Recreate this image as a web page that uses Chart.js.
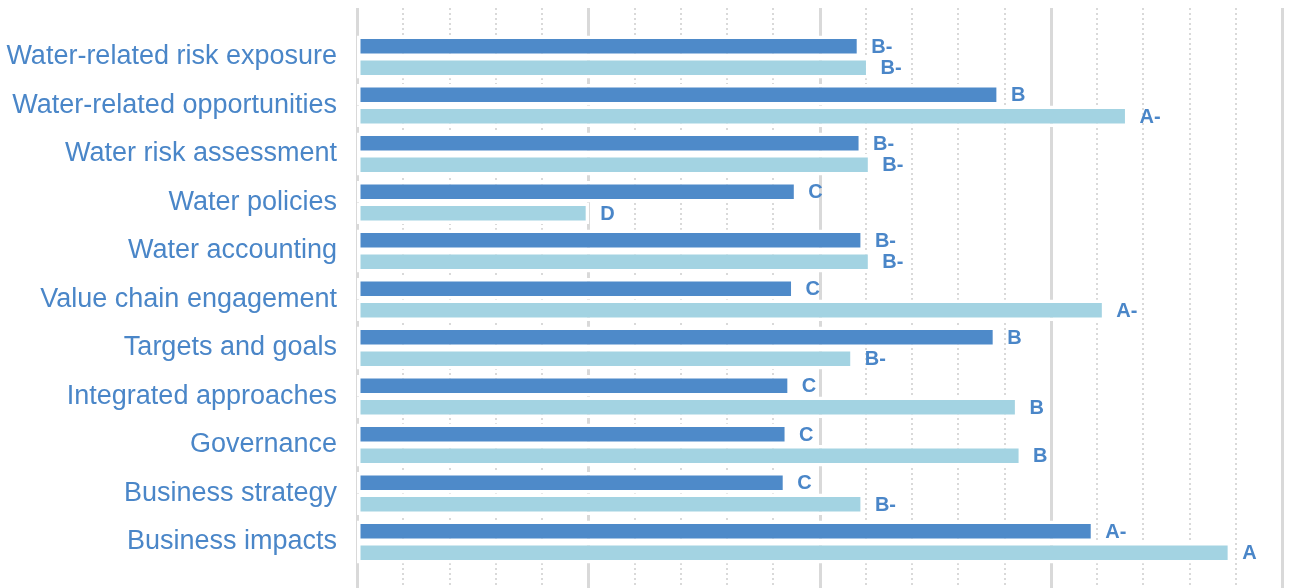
<!DOCTYPE html>
<html>
<head>
<meta charset="utf-8">
<script src="https://cdn.jsdelivr.net/npm/chart.js@4"></script>
<style>
  html, body { margin: 0; padding: 0; background: #fff; }
</style>
</head>
<body>
<canvas id="scores" width="1291" height="588"></canvas>
<script>
var categories = [
  'Water-related risk exposure',
  'Water-related opportunities',
  'Water risk assessment',
  'Water policies',
  'Water accounting',
  'Value chain engagement',
  'Targets and goals',
  'Integrated approaches',
  'Governance',
  'Business strategy',
  'Business impacts'
];
var scoresA = [54.4, 69.5, 54.6, 47.6, 54.8, 47.3, 69.1, 46.9, 46.6, 46.4, 79.7];
var scoresB = [55.4, 83.4, 55.6, 25.1, 55.6, 80.9, 53.7, 71.5, 71.9, 54.8, 94.5];
var gradesA = ['B-', 'B', 'B-', 'C', 'B-', 'C', 'B', 'C', 'C', 'C', 'A-'];
var gradesB = ['B-', 'A-', 'B-', 'D', 'B-', 'A-', 'B-', 'B', 'B', 'B-', 'A'];
var xTicks = [0, 5, 10, 15, 20, 25, 30, 35, 40, 45, 50, 55, 60, 65, 70, 75, 80, 85, 90, 95, 100];

var blue = '#4a86c8';

// grid drawn by hand so it runs the full height, behind the bars
var gridLines = {
  id: 'gridLines',
  beforeDatasetsDraw: function(chart) {
    var ctx = chart.ctx;
    var x = chart.scales.x;
    ctx.save();
    ctx.strokeStyle = '#d9d9d9';
    xTicks.forEach(function(v) {
      var major = v % 25 === 0;
      var px = Math.round(x.getPixelForValue(v)) + (major ? 0.5 : 0);
      ctx.lineWidth = major ? 3 : 2;
      ctx.setLineDash(major ? [] : [2, 3]);
      ctx.beginPath();
      ctx.moveTo(px, 8);
      ctx.lineTo(px, chart.height);
      ctx.stroke();
    });
    ctx.restore();
  }
};

var gradeLabels = {
  id: 'gradeLabels',
  afterDatasetsDraw: function(chart) {
    var ctx = chart.ctx;
    var grades = [gradesA, gradesB];
    ctx.save();
    ctx.fillStyle = blue;
    ctx.font = 'bold 20px "Liberation Sans", Arial, sans-serif';
    ctx.textAlign = 'left';
    ctx.textBaseline = 'middle';
    chart.data.datasets.forEach(function(ds, i) {
      chart.getDatasetMeta(i).data.forEach(function(bar, j) {
        ctx.fillText(grades[i][j], bar.x + 11, bar.y + 1);
      });
    });
    ctx.restore();
  }
};

new Chart(document.getElementById('scores'), {
  type: 'bar',
  data: {
    labels: categories,
    datasets: [
      {
        label: 'Series 1',
        data: scoresA,
        backgroundColor: '#4e8ac9',
        borderColor: '#ffffff',
        borderWidth: 3.5,
        borderSkipped: false
      },
      {
        label: 'Series 2',
        data: scoresB,
        backgroundColor: '#a3d3e2',
        borderColor: '#ffffff',
        borderWidth: 3.5,
        borderSkipped: false
      }
    ]
  },
  options: {
    indexAxis: 'y',
    responsive: false,
    animation: false,
    devicePixelRatio: 1,
    categoryPercentage: 0.887,
    barPercentage: 1,
    layout: { padding: { left: 0, right: 9, top: 32.75, bottom: 21.75 } },
    plugins: {
      legend: { display: false },
      tooltip: { enabled: false }
    },
    scales: {
      x: {
        display: false,
        min: 0,
        max: 100
      },
      y: {
        grid: { display: false, drawTicks: false },
        border: { display: false },
        afterFit: function(scale) {
          scale.width = 357;
          scale.paddingTop = 0;
          scale.paddingBottom = 0;
        },
        ticks: {
          autoSkip: false,
          padding: 20,
          color: blue,
          font: { family: '"Liberation Sans", Arial, sans-serif', size: 27 }
        }
      }
    }
  },
  plugins: [gridLines, gradeLabels]
});
</script>
</body>
</html>
